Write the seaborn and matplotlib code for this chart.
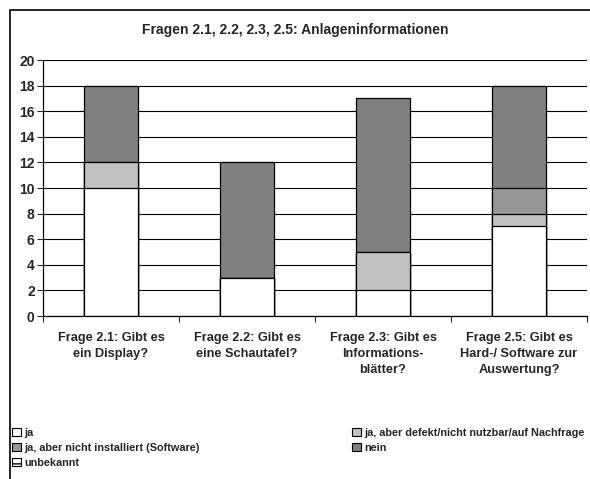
import matplotlib
matplotlib.use("Agg")
import matplotlib.pyplot as plt
import matplotlib.patches as mpatches
import numpy as np
import seaborn as sns

sns.set_style("white")
plt.rcParams['font.family'] = ['Liberation Sans', 'DejaVu Sans']
plt.rcParams['font.weight'] = 'bold'

# data
fragen = ["Frage 2.1: Gibt es\nein Display?",
          "Frage 2.2: Gibt es\neine Schautafel?",
          "Frage 2.3: Gibt es\nInformations-\nblätter?",
          "Frage 2.5: Gibt es\nHard-/ Software zur\nAuswertung?"]
ja = [10, 3, 2, 7]
ja_defekt = [2, 0, 3, 1]
ja_nicht_inst = [0, 0, 0, 2]
nein = [6, 9, 12, 8]
unbekannt = [0, 0, 0, 0]

serien = ["ja", "ja, aber defekt/nicht nutzbar/auf Nachfrage",
          "ja, aber nicht installiert (Software)", "nein", "unbekannt"]
farben = ["#FFFFFF", "#C0C0C0", "#969696", "#808080", "#FFFFFF"]
werte = [ja, ja_defekt, ja_nicht_inst, nein, unbekannt]

fig = plt.figure(figsize=(5.9, 4.79), dpi=100)
ax = fig.add_axes([43/590, 1-316/479, 544/590, 256/479])

# stacked bars: draw cumulative totals from the top layer down
kum = np.cumsum(np.array(werte), axis=0)
for i in range(len(serien) - 1, -1, -1):
    if i == 4:
        continue
    sns.barplot(x=fragen, y=kum[i], color=farben[i], width=0.4,
                edgecolor="black", linewidth=0.9, saturation=1, ax=ax, zorder=2)

ax.set_xlim(-0.5, 3.5)
ax.set_ylim(0, 20)
ax.set_yticks(range(0, 21, 2))
ax.yaxis.grid(True, color="black", linewidth=0.8)
ax.set_axisbelow(True)
for s in ["top", "right"]:
    ax.spines[s].set_visible(False)
for s in ["left", "bottom"]:
    ax.spines[s].set_color("black")
    ax.spines[s].set_linewidth(0.9)

ax.tick_params(axis="y", direction="out", length=4, width=0.8, labelsize=10, pad=2, left=True)
ax.tick_params(axis="x", which="major", length=0, labelsize=9.2, pad=11.5)
ax.set_xticks(np.arange(-0.5, 4, 1), minor=True)
ax.tick_params(axis="x", which="minor", direction="out", length=4, width=0.8, bottom=True)
for lbl in ax.get_xticklabels() + ax.get_yticklabels():
    lbl.set_fontweight("bold")
for lbl in ax.get_xticklabels():
    lbl.set_linespacing(1.45)
ax.set_xlabel("")
ax.set_ylabel("")

fig.text(0.5, 1-30/479, "Fragen 2.1, 2.2, 2.3, 2.5: Anlageninformationen",
         ha="center", va="center", fontsize=10, fontweight="bold")

# outer chart frame
fig.patches.append(mpatches.Rectangle((10/590, -0.05), 1.0, 1.05 - 10/479,
                                      transform=fig.transFigure, fill=False,
                                      edgecolor="black", linewidth=1.2))

handles = []
for name, c in zip(serien, farben):
    h = mpatches.Patch(facecolor=c, edgecolor="black", linewidth=0.8, label=name)
    if name == "unbekannt":
        h = mpatches.Patch(facecolor="white", edgecolor="black", linewidth=0.8,
                           hatch="---", label=name)
    handles.append(h)

# Excel style legend, filled row by row: two separate columns
leg_kw = dict(loc="upper left", frameon=False, fontsize=7.8, handlelength=0.8,
              handleheight=0.8, handletextpad=0.3, labelspacing=0.45,
              borderaxespad=0, borderpad=0)
col1 = [0, 2, 4]
col2 = [1, 3]
leg1 = fig.legend([handles[i] for i in col1], [serien[i] for i in col1],
                  bbox_to_anchor=(12/590, 1-428/479), **leg_kw)
leg2 = fig.legend([handles[i] for i in col2], [serien[i] for i in col2],
                  bbox_to_anchor=(352/590, 1-428/479), **leg_kw)
for leg in (leg1, leg2):
    for t in leg.get_texts():
        t.set_fontweight("bold")

plt.savefig("out.png", dpi=100)
